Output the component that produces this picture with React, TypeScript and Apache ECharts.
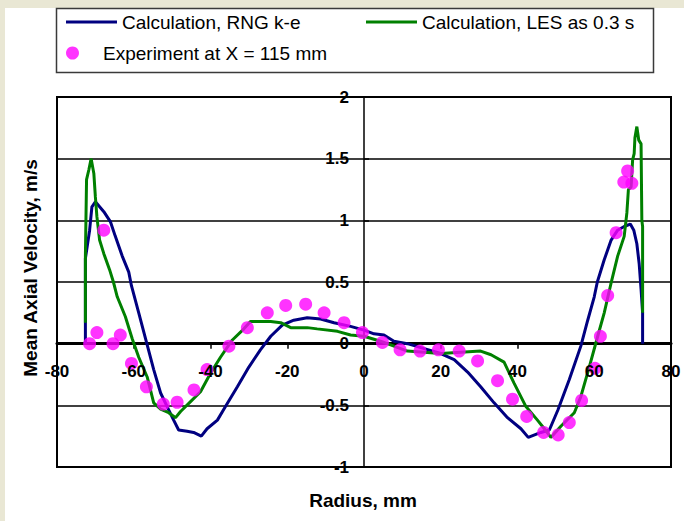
import React, { useEffect, useRef } from "react";
import * as echarts from "echarts";

// Radius (mm) and mean axial velocity (m/s)
const rngRadius = [
  -72.6, -72.6, -71.5, -70.9, -70.0, -67.8, -66.1, -64.8, -63.0, -61.3, -60.6, -58.7, -56.5, -54.8,
  -53.0, -51.3, -49.6, -48.3, -46.1, -44.4, -42.4, -40.9, -38.2, -36.1, -33.0, -30.0, -27.0, -24.3,
  -21.3, -18.3, -14.8, -11.3, -7.8, -3.5, 0, 2.6, 5.2, 7.8, 11.3, 15.7, 20.0, 23.5, 27.0, 30.4, 33.9,
  37.4, 40.9, 42.8, 46.1, 48.3, 50.5, 53.5, 56.5, 58.3, 60.0, 60.8, 62.6, 64.4, 66.1, 67.8, 69.4, 70.3,
  71.1, 71.7, 72.2, 72.6, 72.6,
];
const rngVelocity = [
  0, 0.69, 0.92, 1.11, 1.15, 1.07, 0.99, 0.87, 0.71, 0.58, 0.47, 0.25, -0.01, -0.21,
  -0.4, -0.51, -0.62, -0.7, -0.71, -0.72, -0.75, -0.69, -0.62, -0.51, -0.35, -0.19, -0.05, 0.06,
  0.15, 0.19, 0.21, 0.2, 0.17, 0.14, 0.11, 0.08, 0.07, 0.02, 0, -0.04, -0.08, -0.13, -0.23, -0.35, -0.48,
  -0.6, -0.69, -0.76, -0.72, -0.7, -0.54, -0.29, -0.02, 0.19, 0.38, 0.5, 0.68, 0.84, 0.92, 0.95, 0.97, 0.92,
  0.81, 0.65, 0.44, 0.25, 0,
];

const lesRadius = [
  -72.6, -72.6, -72.3, -71.7, -71.1, -70.4, -70.0, -69.6, -68.9, -67.8, -66.3, -65.3, -64.3, -62.2,
  -60.4, -58.7, -56.5, -54.8, -53.0, -50.9, -49.1, -47.8, -45.2, -42.6, -40.0, -37.4, -34.3, -31.3,
  -29.6, -24.3, -21.7, -19.1, -14.8, -12.2, -6.9, -3.5, 0, 4.3, 7.8, 11.3, 15.7, 20.0, 25.2, 30.4,
  33.1, 36.5, 39.1, 42.2, 45.2, 47.0, 48.7, 51.3, 54.8, 56.5, 58.7, 60.9, 62.6, 64.3, 66.1, 67.8, 68.5,
  68.9, 69.6, 70.0, 70.4, 70.6, 71.1, 71.6, 72.2, 72.4, 72.6, 72.6,
];
const lesVelocity = [
  0.17, 0.71, 1.33, 1.41, 1.5, 1.38, 1.19, 1.03, 0.84, 0.73, 0.6, 0.5, 0.38, 0.22,
  0.04, -0.11, -0.27, -0.48, -0.53, -0.56, -0.6, -0.55, -0.47, -0.39, -0.24, -0.11, 0.03, 0.12,
  0.18, 0.18, 0.17, 0.13, 0.13, 0.12, 0.1, 0.07, 0.06, 0.02, -0.02, -0.06, -0.07, -0.08, -0.07, -0.06,
  -0.09, -0.15, -0.32, -0.51, -0.62, -0.69, -0.76, -0.67, -0.56, -0.43, -0.19, 0.06, 0.25, 0.48, 0.71, 0.87, 1.06,
  1.25, 1.27, 1.49, 1.54, 1.67, 1.76, 1.65, 1.62, 1.0, 0.95, 0.25,
];

const expRadius = [
  -71.5, -69.6, -67.8, -65.4, -63.5, -60.6, -56.7, -52.3, -48.7, -44.3, -40.9, -35.2, -30.4, -25.2,
  -20.4, -15.2, -10.4, -5.2, -0.4, 4.8, 9.4, 14.6, 19.4, 24.8, 29.6, 34.8, 38.7, 42.4, 46.8, 50.6,
  53.5, 56.7, 60.2, 61.6, 63.5, 65.7, 67.7, 68.7, 69.8,
];
const expVelocity = [
  0, 0.09, 0.92, 0, 0.07, -0.16, -0.35, -0.49, -0.475, -0.375, -0.21, -0.02, 0.13, 0.25,
  0.31, 0.32, 0.25, 0.17, 0.09, 0.01, -0.05, -0.06, -0.05, -0.06, -0.14, -0.3, -0.45, -0.59, -0.72, -0.74,
  -0.64, -0.46, -0.2, 0.06, 0.39, 0.9, 1.31, 1.4, 1.3,
];

const seriesNames = ["Calculation, RNG k-e", "Calculation, LES as 0.3 s", "Experiment at X = 115 mm"];
const xTitle = "Radius, mm";
const yTitle = "Mean Axial Velocity, m/s";

const FONT = "'Liberation Sans', Arial, sans-serif";

// grid geometry
const GL = 57, GR = 13, GT = 97, GB = 54, W = 684, H = 521;
const XMIN = -80, XMAX = 80, YMIN = -1, YMAX = 2;

const zip = (xs: number[], ys: number[]) => xs.map((x, i) => [x, ys[i]]);

export default function App() {
  const ref = useRef<HTMLDivElement>(null);
  useEffect(() => {
    if (!ref.current) return;
    const chart = echarts.init(ref.current, undefined, { renderer: "svg" });
    const gw = W - GL - GR;
    const gh = H - GT - GB;
    const yAxisOffset = -((0 - XMIN) / (XMAX - XMIN)) * gw; // move y axis to x = 0
    const xAxisOffset = -((0 - YMIN) / (YMAX - YMIN)) * gh; // move x axis to y = 0
    const legendText = { fontFamily: FONT, fontSize: 19, color: "#000", lineHeight: 20 };
    const tickLabel = { fontFamily: FONT, fontWeight: "bold", fontSize: 17, color: "#000" };
    chart.setOption({
      animation: false,
      backgroundColor: "#e9e7d4",
      graphic: [
        { type: "rect", z: -10, shape: { x: 5, y: 8, width: 679, height: 513 }, style: { fill: "#ffffff" } },
        {
          type: "rect",
          z: -5,
          shape: { x: 56.5, y: 8.5, width: 597, height: 64 },
          style: { fill: "#ffffff", stroke: "#3a3a3a", lineWidth: 1.5 },
        },
        {
          type: "text",
          x: 363,
          y: 500,
          style: { text: xTitle, font: `bold 19px ${FONT}`, fill: "#000", align: "center", verticalAlign: "middle" },
        },
        {
          type: "text",
          x: 30,
          y: 268,
          rotation: Math.PI / 2,
          style: { text: yTitle, font: `bold 19px ${FONT}`, fill: "#000", align: "center", verticalAlign: "middle" },
        },
      ],
      legend: [
        {
          left: 66,
          top: 12,
          padding: 0,
          itemWidth: 51,
          itemHeight: 3,
          icon: "rect",
          data: [seriesNames[0]],
          textStyle: legendText,
          selectedMode: false,
        },
        {
          left: 366,
          top: 12,
          padding: 0,
          itemWidth: 51,
          itemHeight: 3,
          icon: "rect",
          data: [seriesNames[1]],
          textStyle: legendText,
          selectedMode: false,
        },
        {
          left: 66,
          top: 43,
          padding: 0,
          itemWidth: 51,
          itemHeight: 13,
          icon: "circle",
          data: [seriesNames[2]],
          textStyle: legendText,
          selectedMode: false,
        },
      ],
      grid: {
        left: GL,
        right: GR,
        top: GT,
        bottom: GB,
        show: true,
        backgroundColor: "#ffffff",
        borderColor: "#000",
        borderWidth: 2,
        containLabel: false,
      },
      xAxis: [
        {
          type: "value",
          min: XMIN,
          max: XMAX,
          interval: 20,
          position: "bottom",
          offset: xAxisOffset,
          axisLine: { onZero: false, lineStyle: { color: "#000", width: 3 } },
          axisTick: { show: true, inside: false, length: 5, lineStyle: { color: "#000", width: 1.5 } },
          axisLabel: { show: false },
          splitLine: { show: false },
        },
        {
          // label layer drawn above the markers
          type: "value",
          min: XMIN,
          max: XMAX,
          interval: 20,
          position: "bottom",
          offset: xAxisOffset,
          z: 10,
          axisLine: { show: false, onZero: false },
          axisTick: { show: false },
          axisLabel: { ...tickLabel, margin: 19 },
          splitLine: { show: false },
        },
      ],
      yAxis: {
        type: "value",
        min: YMIN,
        max: YMAX,
        interval: 0.5,
        position: "left",
        offset: yAxisOffset,
        axisLine: { onZero: false, lineStyle: { color: "#000", width: 1.5 } },
        axisTick: { show: true, inside: true, length: 5, lineStyle: { color: "#000", width: 1.5 } },
        axisLabel: { ...tickLabel, margin: 15 },
        splitLine: { show: true, lineStyle: { color: "#000", width: 1.5 } },
      },
      series: [
        {
          name: seriesNames[0],
          type: "line",
          xAxisIndex: 0,
          data: zip(rngRadius, rngVelocity),
          symbol: "none",
          color: "#000080",
          lineStyle: { color: "#000080", width: 3 },
          z: 3,
        },
        {
          name: seriesNames[1],
          type: "line",
          xAxisIndex: 0,
          data: zip(lesRadius, lesVelocity),
          symbol: "none",
          color: "#008000",
          lineStyle: { color: "#008000", width: 3 },
          z: 4,
        },
        {
          name: seriesNames[2],
          type: "scatter",
          xAxisIndex: 0,
          data: zip(expRadius, expVelocity),
          symbol: "circle",
          symbolSize: 13,
          itemStyle: { color: "#ff00ff" },
          z: 5,
        },
      ],
    });
    return () => chart.dispose();
  }, []);
  return (
    <div
      ref={ref}
      style={{ position: "fixed", left: 0, top: 0, width: W, height: H }}
    />
  );
}
